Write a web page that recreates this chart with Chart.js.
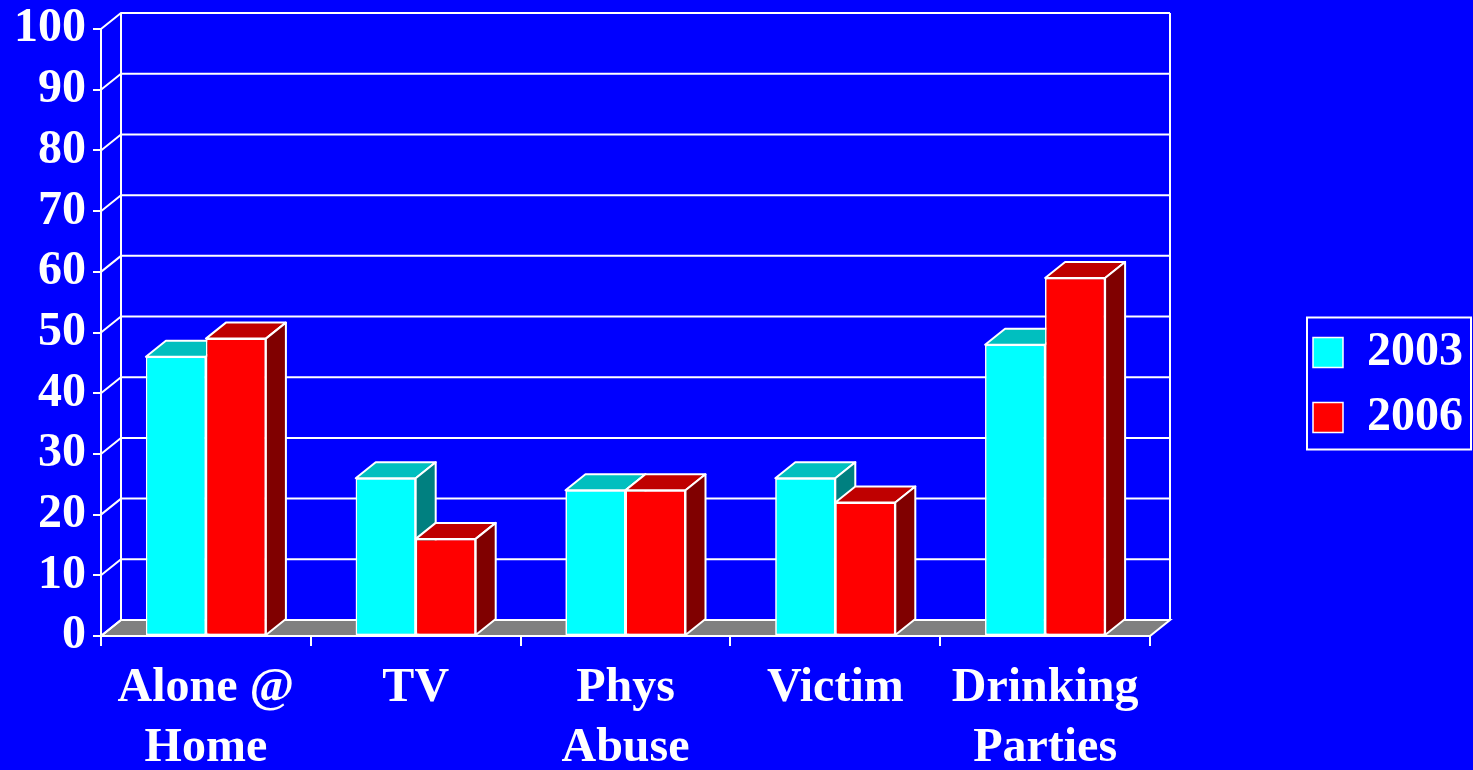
<!DOCTYPE html>
<html>
<head>
<meta charset="utf-8">
<title>2003 vs 2006</title>
<script src="https://cdn.jsdelivr.net/npm/chart.js@4.4.1/dist/chart.umd.min.js"></script>
<style>
  html, body { margin: 0; padding: 0; background: #0000ff; overflow: hidden; }
  canvas { display: block; }
</style>
</head>
<body>
<canvas id="chart" width="1473" height="770"></canvas>
<script>
// 資料
const categories = [['Alone @', 'Home'], 'TV', ['Phys', 'Abuse'], 'Victim', ['Drinking', 'Parties']];
const seriesNames = ['2003', '2006'];
const values2003 = [46, 26, 24, 26, 48];
const values2006 = [49, 16, 24, 22, 59];
const yMin = 0, yMax = 100, yStep = 10;

// 顏色 (正面 / 頂面 / 側面)
const FRONT = ['#00ffff', '#ff0000'];
const TOP = ['#00bfbf', '#bf0000'];
const SIDE = ['#008080', '#800000'];

const FONT = "'Times New Roman', 'Liberation Serif', serif";
const DX = 20, DY = 16;   // 3D 深度偏移

function poly(ctx, pts, fill) {
    ctx.beginPath();
    ctx.moveTo(pts[0][0], pts[0][1]);
    for (let i = 1; i < pts.length; i++) ctx.lineTo(pts[i][0], pts[i][1]);
    ctx.closePath();
    if (fill) {
        ctx.fillStyle = fill;
        ctx.fill();
    }
    ctx.stroke();
}

// 背牆、地板、格線
const depthPlugin = {
    id: 'depth',
    beforeDatasetsDraw(chart) {
        const { ctx, chartArea: a, scales: { y } } = chart;
        ctx.save();
        ctx.strokeStyle = '#ffffff';
        ctx.lineWidth = 2;
        // 地板
        poly(ctx, [[a.left, a.bottom], [a.right, a.bottom], [a.right + DX, a.bottom - DY], [a.left + DX, a.bottom - DY]], '#808080');
        // 格線
        ctx.beginPath();
        y.ticks.forEach(t => {
            const py = y.getPixelForValue(t.value);
            ctx.moveTo(a.left, py);
            ctx.lineTo(a.left + DX, py - DY);
            ctx.lineTo(a.right + DX, py - DY);
        });
        ctx.moveTo(a.left + DX, a.top - DY);
        ctx.lineTo(a.left + DX, a.bottom - DY);
        ctx.moveTo(a.right + DX, a.top - DY);
        ctx.lineTo(a.right + DX, a.bottom - DY);
        ctx.stroke();
        ctx.restore();
    },
    // 依類別重畫長條，加上頂面與側面
    afterDatasetsDraw(chart) {
        const ctx = chart.ctx;
        const metas = [chart.getDatasetMeta(0), chart.getDatasetMeta(1)];
        ctx.save();
        ctx.strokeStyle = '#ffffff';
        ctx.lineWidth = 2;
        ctx.lineJoin = 'round';
        for (let i = 0; i < categories.length; i++) {
            metas.forEach((meta, d) => {
                const bar = meta.data[i];
                bar.draw(ctx, chart.chartArea);
                const { x, y, width, base } = bar.getProps(['x', 'y', 'width', 'base'], true);
                const l = x - width / 2, r = x + width / 2;
                poly(ctx, [[l, y], [r, y], [r + DX, y - DY], [l + DX, y - DY]], TOP[d]);
                poly(ctx, [[r, y], [r + DX, y - DY], [r + DX, base - DY], [r, base]], SIDE[d]);
            });
        }
        ctx.restore();
    },
    // 圖例外框
    afterDraw(chart) {
        const lg = chart.legend;
        const hb = lg.legendHitBoxes;
        if (!hb || hb.length < 2) return;
        const ctx = chart.ctx;
        ctx.save();
        ctx.strokeStyle = '#ffffff';
        ctx.lineWidth = 2;
        const top = hb[0].top - 11;
        const bottom = hb[1].top + 56;
        const left = hb[0].left - 6;
        ctx.strokeRect(left, top, chart.width - 2 - left, bottom - top);
        ctx.restore();
    }
};

const chartData = {
    labels: categories,
    datasets: [
        {
            label: seriesNames[0],
            data: values2003,
            backgroundColor: FRONT[0],
            borderColor: '#ffffff',
            borderWidth: 1.5,
            borderSkipped: false
        },
        {
            label: seriesNames[1],
            data: values2006,
            backgroundColor: FRONT[1],
            borderColor: '#ffffff',
            borderWidth: 1.5,
            borderSkipped: false
        }
    ]
};

const config = {
    type: 'bar',
    data: chartData,
    options: {
        responsive: false,
        animation: false,
        categoryPercentage: 0.572,
        barPercentage: 1,
        layout: { padding: { left: 7 } },
        plugins: {
            legend: {
                position: 'right',
                labels: {
                    color: '#ffffff',
                    boxWidth: 30,
                    boxHeight: 30,
                    padding: 17,
                    font: { family: FONT, size: 48, weight: 'bold' }
                }
            },
            tooltip: { enabled: false }
        },
        scales: {
            x: {
                grid: {
                    drawOnChartArea: false,
                    color: '#ffffff',
                    lineWidth: 2,
                    tickLength: 10,
                    offset: true
                },
                border: { color: '#ffffff', width: 2 },
                ticks: {
                    color: '#ffffff',
                    padding: 13,
                    maxRotation: 0,
                    autoSkip: false,
                    font: { family: FONT, size: 48, weight: 'bold', lineHeight: 1.25 }
                },
                afterFit: s => { s.height = 134; }
            },
            y: {
                min: yMin,
                max: yMax,
                grid: {
                    drawOnChartArea: false,
                    color: '#ffffff',
                    lineWidth: 2,
                    tickLength: 8
                },
                border: { color: '#ffffff', width: 2 },
                ticks: {
                    stepSize: yStep,
                    autoSkip: false,
                    color: '#ffffff',
                    padding: 7,
                    font: { family: FONT, size: 48, weight: 'bold', lineHeight: 0.92 }
                }
            },
            // 右側留白用
            y2: {
                position: 'right',
                display: false,
                afterFit: s => { s.width = 146; }
            }
        }
    },
    plugins: [depthPlugin]
};

new Chart(document.getElementById('chart').getContext('2d'), config);
</script>
</body>
</html>
